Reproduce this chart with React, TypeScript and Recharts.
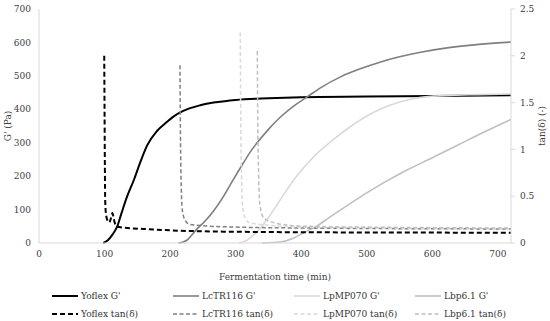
import React from "react";
import { LineChart, Line, XAxis, YAxis, Legend } from "recharts";

// ---- Data (time in min, G' in Pa, tan(δ) dimensionless) ----
const yoflexGTime = [98, 105, 112, 119, 126, 134, 145, 154, 165, 180, 195, 205, 220, 246, 270, 300, 350, 400, 500, 600, 720];
const yoflexGValue = [0, 8, 25, 48, 90, 137, 190, 239, 292, 335, 362, 378, 395, 412, 421, 428, 433, 436, 438, 440, 442];

const lctrGTime = [213, 220, 226, 240, 253, 266, 280, 295, 311, 325, 337, 350, 370, 390, 409, 430, 460, 490, 520, 550, 580, 620, 660, 720];
const lctrGValue = [0, 3, 9, 40, 65, 95, 135, 185, 237, 280, 310, 340, 380, 412, 437, 465, 497, 521, 541, 557, 570, 583, 592, 601];

const lpmpGTime = [305, 317, 330, 345, 360, 375, 390, 405, 420, 445, 470, 495, 520, 550, 580, 620, 670, 720];
const lpmpGValue = [0, 8, 28, 62, 105, 150, 192, 228, 260, 303, 341, 374, 400, 422, 435, 441, 444, 446];

const lbpGTime = [340, 368, 385, 403, 425, 444, 470, 500, 530, 560, 600, 640, 680, 720];
const lbpGValue = [0, 3, 12, 30, 52, 78, 112, 150, 185, 217, 255, 294, 333, 370];

const yoflexTanTime = [99.5, 100, 100.5, 101, 102, 104, 107, 110, 112, 114, 117, 122, 135, 160, 200, 250, 300, 400, 720];
const yoflexTanValue = [2.0, 1.4, 0.8, 0.45, 0.32, 0.25, 0.22, 0.27, 0.32, 0.26, 0.19, 0.17, 0.16, 0.15, 0.135, 0.125, 0.12, 0.115, 0.11];

const lctrTanTime = [215, 215.5, 216, 217, 218, 220, 223, 230, 250, 300, 400, 500, 720];
const lctrTanValue = [1.9, 1.4, 1.0, 0.6, 0.4, 0.3, 0.24, 0.2, 0.185, 0.17, 0.16, 0.155, 0.15];

const lpmpTanTime = [307, 307.5, 308, 309, 310, 312, 315, 320, 335, 350, 400, 500, 720];
const lpmpTanValue = [2.25, 1.6, 1.1, 0.7, 0.45, 0.32, 0.26, 0.22, 0.2, 0.19, 0.17, 0.16, 0.15];

const lbpTanTime = [333, 333.5, 334, 335, 336, 338, 341, 346, 357, 380, 400, 500, 720];
const lbpTanValue = [2.05, 1.5, 1.1, 0.75, 0.5, 0.36, 0.29, 0.25, 0.22, 0.19, 0.18, 0.17, 0.16];

const xTicks = [0, 100, 200, 300, 400, 500, 600, 700];
const leftTicks = [0, 100, 200, 300, 400, 500, 600, 700];
const rightTicks = [0, 0.5, 1, 1.5, 2, 2.5];

const zip = (t: number[], v: number[]) => t.map((x, i) => ({ t: x, v: v[i] }));

const series = [
  { name: "Yoflex G'", data: zip(yoflexGTime, yoflexGValue), axis: "left", color: "#000000", dash: undefined as string | undefined, width: 2 },
  { name: "LcTR116 G'", data: zip(lctrGTime, lctrGValue), axis: "left", color: "#7f7f7f", dash: undefined, width: 1.6 },
  { name: "LpMP070 G'", data: zip(lpmpGTime, lpmpGValue), axis: "left", color: "#d9d9d9", dash: undefined, width: 1.6 },
  { name: "Lbp6.1 G'", data: zip(lbpGTime, lbpGValue), axis: "left", color: "#bfbfbf", dash: undefined, width: 1.6 },
  { name: "Yoflex tan(δ)", data: zip(yoflexTanTime, yoflexTanValue), axis: "right", color: "#000000", dash: "5 3", width: 2 },
  { name: "LcTR116 tan(δ)", data: zip(lctrTanTime, lctrTanValue), axis: "right", color: "#7f7f7f", dash: "4 2.5", width: 1.5 },
  { name: "LpMP070 tan(δ)", data: zip(lpmpTanTime, lpmpTanValue), axis: "right", color: "#d9d9d9", dash: "4 2.5", width: 1.5 },
  { name: "Lbp6.1 tan(δ)", data: zip(lbpTanTime, lbpTanValue), axis: "right", color: "#bfbfbf", dash: "4 2.5", width: 1.5 },
];

const FONT = "DejaVu Serif";
const tickStyle = { fontSize: 9, fill: "#404040", fontFamily: FONT };

const renderLegend = (props: any) => {
  const payload: any[] = props.payload || [];
  return (
    <div style={{ position: "relative", width: 550, height: 36, fontFamily: FONT, fontSize: 9, color: "#333" }}>
      {series.map((s, i) => {
        const entry = payload.find((p) => p.value === s.name);
        const label = entry ? entry.value : s.name;
        const col = i % 4;
        const row = Math.floor(i / 4);
        const left = 52 + col * 121;
        const top = 5 + row * 18;
        return (
          <div key={i} style={{ position: "absolute", left, top, height: 12, display: "flex", alignItems: "center", whiteSpace: "nowrap" }}>
            <svg width={26} height={12} style={{ display: "block" }}>
              <line x1={0} y1={6} x2={26} y2={6} stroke={s.color} strokeWidth={s.width} strokeDasharray={s.dash} />
            </svg>
            <span style={{ marginLeft: 3, lineHeight: "12px", fontFamily: FONT }}>{label}</span>
          </div>
        );
      })}
    </div>
  );
};

export default function App() {
  return (
    <div style={{ position: "absolute", left: 0, top: 0, width: 550, height: 321, background: "#fff", fontFamily: FONT }}>
      <LineChart width={550} height={321} margin={{ top: 9, right: 0, bottom: 0, left: 0 }} style={{ fontFamily: FONT }}>
        <XAxis
          dataKey="t"
          type="number"
          domain={[0, 720]}
          ticks={xTicks}
          allowDataOverflow
          tickLine={false}
          axisLine={{ stroke: "#d9d9d9" }}
          tick={tickStyle}
          tickSize={6}
          tickMargin={2}
          height={42}
          label={{ value: "Fermentation time (min)", position: "insideBottom", offset: 5, style: { fontSize: 9, fill: "#404040", fontFamily: FONT } }}
        />
        <YAxis
          yAxisId="left"
          domain={[0, 700]}
          ticks={leftTicks}
          width={39}
          tickLine={false}
          axisLine={{ stroke: "#d9d9d9" }}
          tick={tickStyle}
          tickSize={6}
          tickMargin={2}
          label={{ value: "G' (Pa)", angle: -90, position: "insideLeft", offset: 8, style: { textAnchor: "middle", fontSize: 9, fill: "#404040", fontFamily: FONT } }}
        />
        <YAxis
          yAxisId="right"
          orientation="right"
          domain={[0, 2.5]}
          ticks={rightTicks}
          width={39}
          tickLine={{ stroke: "#d9d9d9" }}
          axisLine={{ stroke: "#d9d9d9" }}
          tick={tickStyle}
          tickSize={4}
          tickMargin={5}
          label={{ value: "tan(δ) (-)", angle: -90, position: "insideRight", offset: 8, style: { textAnchor: "middle", fontSize: 9, fill: "#404040", fontFamily: FONT } }}
        />
        {series.map((s) => (
          <Line
            key={s.name}
            name={s.name}
            data={s.data}
            dataKey="v"
            yAxisId={s.axis}
            type="monotone"
            stroke={s.color}
            strokeWidth={s.width}
            strokeDasharray={s.dash}
            dot={false}
            activeDot={false}
            isAnimationActive={false}
          />
        ))}
        <Legend verticalAlign="bottom" height={36} content={renderLegend} />
      </LineChart>
    </div>
  );
}
